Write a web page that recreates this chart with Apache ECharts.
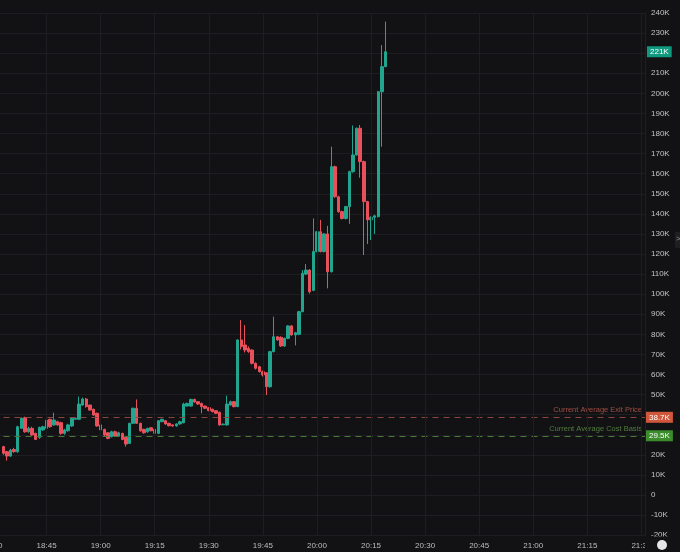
<!DOCTYPE html>
<html>
<head>
<meta charset="utf-8">
<script src="https://cdn.jsdelivr.net/npm/echarts@6/dist/echarts.min.js"></script>
<style>
html, body { margin: 0; padding: 0; background: #121215; }
#chart { width: 680px; height: 552px; }
</style>
</head>
<body>
<div id="chart"></div>
<script>
// 1 minute candles starting 18:33, prices in K
var firstCandle = '18:33';
var opens = [24.1, 21.6, 19.4, 22.7, 21.6, 33.2, 38.5, 31.5, 33.2, 30.7,
    28.7, 32.4, 33.2, 37.7, 34.9, 36.5, 36.0, 30.7, 32.0, 34.4,
    37.7, 37.7, 44.8, 47.8, 44.8, 42.7, 40.7, 34.9, 32.7, 31.0,
    29.0, 31.5, 29.4, 30.7, 28.7, 25.7, 35.7, 43.2, 35.7, 32.7,
    31.5, 33.5, 32.7, 30.7, 36.5, 37.0, 35.7, 34.9, 34.4, 35.4,
    36.0, 44.3, 44.3, 47.6, 46.5, 45.6, 44.3, 43.5, 42.7, 42.0,
    41.2, 35.0, 34.9, 44.8, 46.5, 44.0, 77.2, 74.7, 73.0, 72.2,
    65.6, 63.9, 61.4, 60.9, 53.9, 71.4, 78.8, 78.5, 74.2, 78.0,
    84.2, 79.7, 80.0, 91.3, 110.0, 112.0, 101.9, 121.2, 131.1, 121.2,
    130.0, 111.2, 163.5, 148.5, 141.1, 137.7, 143.6, 161.0, 169.3, 182.6,
    166.0, 146.1, 137.0, 138.3, 138.6, 200.8, 213.3];
var closes = [20.8, 19.4, 22.4, 21.6, 34.0, 38.2, 31.5, 33.2, 29.9, 27.7,
    33.7, 34.0, 37.3, 34.0, 37.3, 34.9, 30.7, 32.4, 34.9, 38.2,
    38.2, 45.3, 47.8, 44.0, 42.3, 39.8, 34.4, 32.4, 29.9, 28.2,
    31.5, 29.4, 31.0, 27.7, 25.4, 35.7, 43.2, 35.7, 32.0, 31.0,
    33.2, 32.0, 30.7, 37.0, 37.7, 35.4, 34.5, 34.4, 35.4, 36.5,
    45.3, 45.6, 47.6, 46.3, 45.3, 44.0, 43.2, 42.0, 41.5, 40.7,
    34.9, 35.3, 45.3, 46.5, 44.0, 77.2, 73.9, 72.2, 71.4, 65.6,
    63.1, 61.4, 59.8, 53.9, 71.4, 78.8, 77.2, 74.2, 78.0, 84.2,
    79.7, 80.8, 91.3, 110.4, 112.0, 101.2, 121.2, 131.1, 121.2, 130.0,
    111.2, 163.5, 148.5, 141.1, 137.7, 143.6, 161.0, 169.3, 182.6, 166.0,
    146.1, 137.0, 138.3, 139.0, 200.8, 213.3, 220.7];
var lows = [20.0, 17.1, 19.0, 21.0, 21.0, 33.0, 31.0, 31.0, 29.5, 27.4,
    28.0, 32.0, 33.0, 33.5, 34.5, 34.5, 30.0, 30.0, 31.5, 34.0,
    37.5, 37.5, 44.5, 43.5, 42.0, 39.5, 34.0, 32.0, 29.0, 27.8,
    28.7, 29.0, 29.0, 27.3, 24.1, 25.4, 35.5, 35.4, 31.5, 30.5,
    31.0, 31.8, 30.0, 30.3, 36.3, 35.0, 34.2, 34.0, 34.0, 35.0,
    35.7, 44.0, 44.0, 46.0, 45.0, 40.7, 42.8, 41.7, 41.2, 40.3,
    34.5, 34.8, 34.6, 44.5, 43.7, 43.8, 72.5, 71.0, 70.8, 65.0,
    62.5, 61.0, 59.0, 49.8, 53.5, 71.0, 76.8, 73.8, 73.8, 77.6,
    79.3, 74.5, 79.6, 91.0, 109.5, 100.3, 101.5, 120.8, 120.8, 120.8,
    102.9, 110.8, 148.0, 140.5, 137.2, 137.2, 135.0, 160.5, 169.0, 158.0,
    119.5, 125.0, 127.0, 130.0, 138.2, 173.4, 213.0];
var highs = [24.5, 22.0, 23.0, 23.5, 34.5, 38.6, 39.0, 34.0, 34.0, 31.0,
    34.0, 34.5, 38.0, 38.0, 41.0, 37.0, 36.5, 33.0, 35.5, 38.6,
    38.6, 49.0, 48.5, 48.3, 45.0, 43.0, 41.0, 35.2, 33.0, 31.3,
    32.0, 32.0, 31.5, 31.0, 29.0, 36.0, 43.5, 47.6, 36.0, 33.0,
    33.5, 33.8, 33.0, 37.3, 38.0, 37.3, 36.0, 35.2, 35.7, 37.0,
    46.0, 46.0, 48.0, 48.0, 46.8, 46.0, 44.5, 43.8, 43.0, 42.3,
    41.5, 35.6, 49.5, 47.0, 46.8, 77.5, 87.1, 84.6, 74.0, 72.5,
    66.0, 64.3, 62.0, 61.2, 71.8, 88.8, 79.2, 79.0, 78.4, 84.6,
    84.6, 81.2, 91.7, 112.0, 115.0, 112.5, 137.7, 131.5, 137.0, 130.4,
    134.0, 173.4, 164.0, 149.0, 141.5, 144.0, 161.5, 184.0, 183.0, 184.2,
    166.5, 146.5, 138.8, 139.5, 201.2, 224.0, 235.7];

var exitPrice = 38.7;
var costBasis = 29.5;
var lastPrice = 220.7;

// x categories, one per minute from 18:30 to 21:31
var minutes = [];
for (var m = 18 * 60 + 30; m <= 21 * 60 + 31; m++) {
    var mm = m % 60;
    minutes.push(Math.floor(m / 60) + ':' + (mm < 10 ? '0' + mm : mm));
}

var start = minutes.indexOf(firstCandle);
var candles = [];
for (var i = 0; i < start; i++) {
    candles.push(['-', '-', '-', '-']);
}
for (var j = 0; j < opens.length; j++) {
    candles.push([opens[j], closes[j], lows[j], highs[j]]);
}

function quarterHour(idx, val) {
    return Number(val.split(':')[1]) % 15 === 0;
}

var upColor = '#22a58f';
var downColor = '#e9505c';
var bg = '#121215';
var clear = 'rgba(0,0,0,0)';

var myChart = echarts.init(document.getElementById('chart'));
var option = {
    backgroundColor: bg,
    animation: false,
    grid: { left: -7.5, right: 35, top: 13, bottom: 16.8, containLabel: false, outerBoundsMode: 'none' },
    xAxis: {
        type: 'category',
        data: minutes,
        boundaryGap: false,
        zlevel: 2,
        axisLine: { show: false },
        axisTick: { show: false },
        axisLabel: {
            interval: quarterHour,
            color: '#bdbdbd',
            fontSize: 8,
            fontFamily: 'Liberation Sans',
            margin: 7
        },
        splitLine: {
            show: true,
            interval: quarterHour,
            lineStyle: { color: '#1e1e22', width: 1 }
        }
    },
    yAxis: {
        type: 'value',
        position: 'right',
        min: -20,
        max: 240,
        interval: 10,
        axisLine: { show: true, lineStyle: { color: '#202024' } },
        axisTick: { show: false },
        axisLabel: {
            color: '#c4c4c4',
            fontSize: 8,
            fontFamily: 'Liberation Sans',
            margin: 6,
            formatter: function (v) { return v === 0 ? '0' : v + 'K'; }
        },
        splitLine: { lineStyle: { color: '#1e1e22', width: 1 } }
    },
    series: [{
        type: 'candlestick',
        barWidth: '82%',
        data: candles,
        itemStyle: {
            color: upColor,
            color0: downColor,
            borderColor: upColor,
            borderColor0: downColor,
            borderWidth: 1
        },
        markLine: {
            silent: true,
            symbol: 'none',
            precision: 1,
            data: [
                {
                    yAxis: exitPrice,
                    lineStyle: { color: '#8a463c', type: [6, 5], width: 1 },
                    label: {
                        position: 'insideEndTop', formatter: 'Current Average Exit Price',
                        color: '#a04d42', fontSize: 7.5, fontFamily: 'Liberation Sans', distance: 3
                    }
                },
                {
                    yAxis: exitPrice,
                    lineStyle: { color: clear, width: 0 },
                    label: {
                        position: 'end', formatter: '38.7K', color: '#fff', fontSize: 8,
                        fontFamily: 'Liberation Sans', backgroundColor: '#d0573b',
                        padding: [2, 3, 1, 3], distance: 1
                    }
                },
                {
                    yAxis: costBasis,
                    lineStyle: { color: '#467a36', type: [6, 5], width: 1 },
                    label: {
                        position: 'insideEndTop', formatter: 'Current Average Cost Basis',
                        color: '#527e3c', fontSize: 7.5, fontFamily: 'Liberation Sans', distance: 3
                    }
                },
                {
                    yAxis: costBasis,
                    lineStyle: { color: clear, width: 0 },
                    label: {
                        position: 'end', formatter: '29.5K', color: '#fff', fontSize: 8,
                        fontFamily: 'Liberation Sans', backgroundColor: '#3b8d2c',
                        padding: [2, 3, 1, 3], distance: 1
                    }
                },
                {
                    yAxis: lastPrice,
                    lineStyle: { color: clear, width: 0 },
                    label: {
                        position: 'end', formatter: '221K', color: '#fff', fontSize: 8,
                        fontFamily: 'Liberation Sans', backgroundColor: '#0f9a80',
                        padding: [2, 3, 1, 3], distance: 2
                    }
                }
            ]
        }
    }],
    graphic: [
        // bottom band clips -20K, corner box clips the last time label
        { type: 'rect', zlevel: 1, shape: { x: 0, y: 536.5, width: 680, height: 16 }, style: { fill: bg } },
        { type: 'rect', zlevel: 3, shape: { x: 645, y: 537, width: 35, height: 15 }, style: { fill: bg } },
        { type: 'circle', zlevel: 3, shape: { cx: 662, cy: 545, r: 5 }, style: { fill: '#e6e6e6' } },
        { type: 'rect', zlevel: 3, shape: { x: 675, y: 232, width: 6, height: 16, r: 1 }, style: { fill: '#1f1f23' } },
        { type: 'text', zlevel: 3, x: 676, y: 235, style: { text: '>', fill: '#9a9a9a', fontSize: 8 } }
    ]
};
myChart.setOption(option);
</script>
</body>
</html>
